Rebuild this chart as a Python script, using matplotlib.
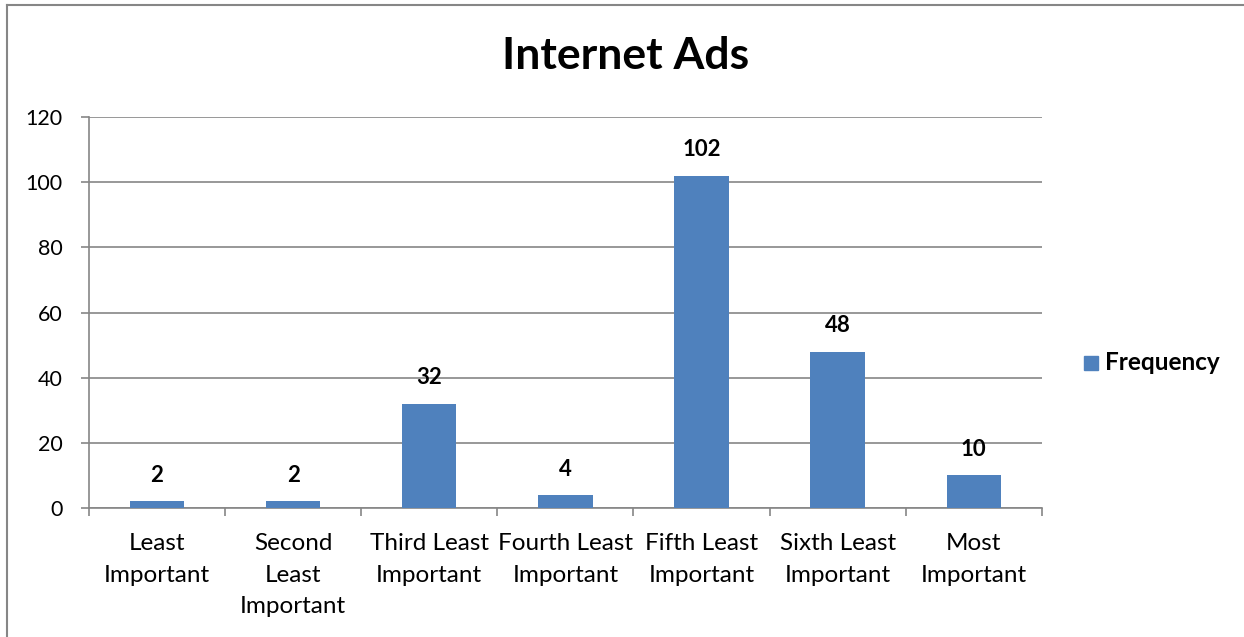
import matplotlib.pyplot as plt
from matplotlib.lines import Line2D
from matplotlib.patches import Rectangle

plt.rcParams['font.family'] = ['Lato', 'DejaVu Sans']

categorias = ["Least\nImportant", "Second\nLeast\nImportant", "Third Least\nImportant",
              "Fourth Least\nImportant", "Fifth Least\nImportant", "Sixth Least\nImportant",
              "Most\nImportant"]
frecuencia = [2, 2, 32, 4, 102, 48, 10]
ticks_y = [0, 20, 40, 60, 80, 100, 120]

azul = "#4F81BD"
gris = "#868686"

fig = plt.figure(figsize=(12.44, 6.37), dpi=100)
ax = fig.add_axes([0.0715, 0.2025, 0.766, 0.6138])

x = list(range(len(categorias)))
barras = ax.bar(x, frecuencia, width=0.4, color=azul, zorder=3)

# Etiquetas de valor sobre cada barra
for xi, v in zip(x, frecuencia):
    ax.annotate(str(v), (xi, v), xytext=(0, 11), textcoords="offset points",
                ha="center", va="bottom", fontsize=16, fontweight="bold")

ax.set_xlim(-0.5, len(categorias) - 0.5)
ax.set_ylim(0, 120)
ax.set_yticks(ticks_y)
ax.grid(axis="y", color=gris, linewidth=1.2, zorder=0)

ax.set_xticks(x)
ax.set_xticklabels(categorias, fontsize=17.5, linespacing=1.63)
ax.set_xticks([i - 0.5 for i in range(len(categorias) + 1)], minor=True)
ax.tick_params(axis="x", which="major", length=0, pad=18)
ax.tick_params(axis="x", which="minor", length=6, width=1.2, color=gris)
ax.tick_params(axis="y", length=6, width=1.2, color=gris, labelsize=15.5, pad=13)

for lado in ["top", "right"]:
    ax.spines[lado].set_visible(False)
for lado in ["left", "bottom"]:
    ax.spines[lado].set_color(gris)
    ax.spines[lado].set_linewidth(1.2)

fig.text(0.503, 0.912, "Internet Ads", ha="center", va="center",
         fontsize=32, fontweight="bold")

# Leyenda
fig.patches.append(Rectangle((1084 / 1244, 1 - 370 / 637), 14 / 1244, 14 / 637,
                             transform=fig.transFigure, color=azul))
fig.text(1105 / 1244, 1 - 363 / 637, "Frequency", ha="left", va="center",
         fontsize=17.5, fontweight="bold")

# Borde del gráfico
fig.add_artist(Line2D([7 / 1244, 7 / 1244], [0, 1 - 5 / 637], color=gris, linewidth=1.5,
                      transform=fig.transFigure))
fig.add_artist(Line2D([7 / 1244, 1], [1 - 5 / 637, 1 - 5 / 637], color=gris, linewidth=1.5,
                      transform=fig.transFigure))

fig.savefig("out.png", dpi=100)
